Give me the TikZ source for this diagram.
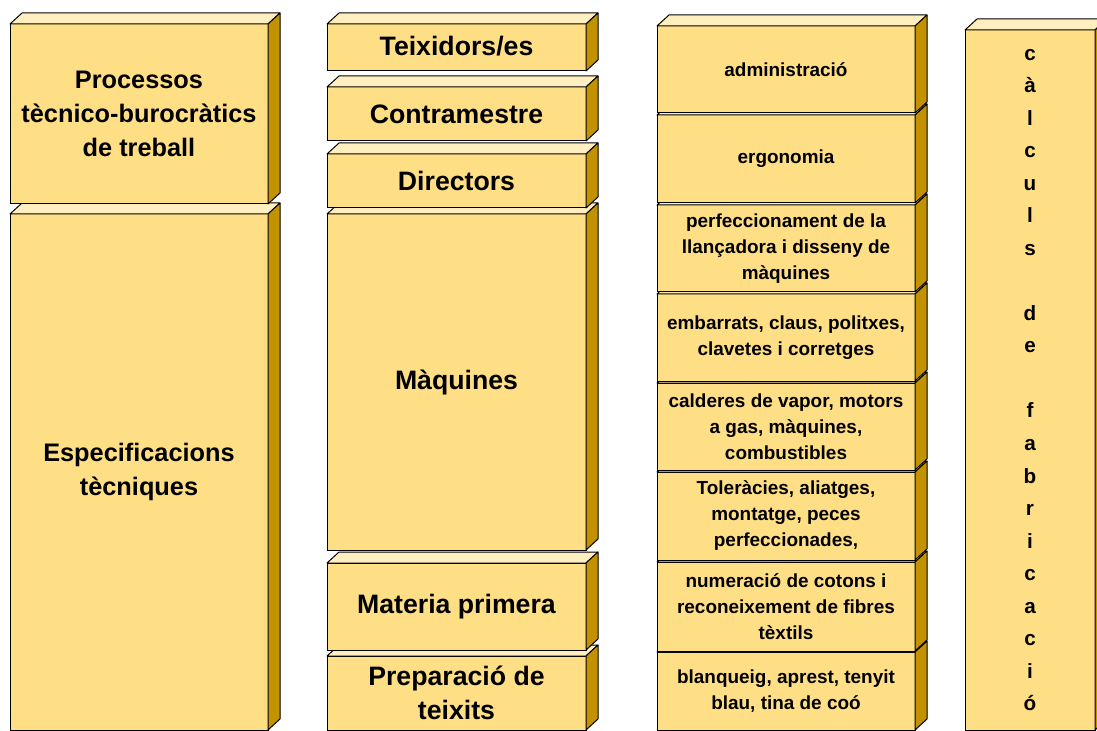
\documentclass[tikz,border=0pt]{standalone}
\usepackage{fontspec}
\setmainfont{Liberation Sans}
\usetikzlibrary{calc}
\definecolor{frontc}{HTML}{FFDF85}
\definecolor{topc}{HTML}{FFEFC0}
\definecolor{sidec}{HTML}{C29200}
\tikzset{
  face/.style={draw=black, line width=0.75pt, fill=frontc, inner sep=0pt, outer sep=0pt, align=center},
  big/.style={font=\fontsize{19}{25.5}\selectfont\bfseries},
  mid/.style={font=\fontsize{20}{25.5}\selectfont\bfseries},
  small/.style={font=\fontsize{14.2}{19.5}\selectfont\bfseries},
  vert/.style={font=\fontsize{15.5}{24.4}\selectfont\bfseries},
  topface/.style={draw=black, line width=0.75pt, fill=topc, line join=round},
  sideface/.style={draw=black, line width=0.75pt, fill=sidec, line join=round},
}
% name, style, x, y, w, h, text
\newcommand\cubebox[7]{%
  \node[face,#2,minimum width={#5*0.75pt},minimum height={#6*0.75pt}] (#1) at ({#3+#5/2},{#4+#6/2}) {#7};
  \draw[topface] (#1.north west) -- ++(12,-11) -- ($(#1.north east)+(12,-11)$) -- (#1.north east) -- cycle;
  \draw[sideface] (#1.north east) -- ++(12,-11) -- ($(#1.south east)+(12,-11)$) -- (#1.south east) -- cycle;
}
\begin{document}
\begin{tikzpicture}[x=0.75pt,y=-0.75pt]
\useasboundingbox (0,0) rectangle (1097,731);
\clip (0,0) rectangle (1097,731);
% column 1
\cubebox{esp}{big}{10}{214}{258}{516}{Especificacions\\tècniques}
\cubebox{proc}{big}{10}{24}{258}{180}{Processos\\tècnico-burocràtics\\de treball}
% column 2
\cubebox{prep}{mid}{327}{656}{259}{74}{Preparació de\\teixits}
\cubebox{mat}{mid}{327}{563}{259}{87}{Materia primera}
\cubebox{maq}{mid}{327}{214}{259}{336}{Màquines}
\cubebox{dir}{mid}{327}{154}{259}{54}{Directors}
\cubebox{contra}{mid}{327}{87}{259}{54}{Contramestre}
\cubebox{teix}{mid}{327}{24}{259}{47}{\raisebox{2pt}{Teixidors/es}}
% column 3
\cubebox{blanq}{small}{657}{652}{258}{78}{blanqueig, aprest, tenyit\\blau, tina de coó}
\cubebox{numer}{small}{657}{562}{258}{89}{numeració de cotons i\\reconeixement de fibres\\tèxtils}
\cubebox{toler}{small}{657}{472}{258}{88}{Toleràcies, aliatges,\\montatge, peces\\perfeccionades,}
\cubebox{cald}{small}{657}{383}{258}{87}{calderes de vapor, motors\\a gas, màquines,\\combustibles}
\cubebox{embar}{small}{657}{294}{258}{87}{embarrats, claus, politxes,\\clavetes i corretges}
\cubebox{perf}{small}{657}{205}{258}{87}{perfeccionament de la\\llançadora i disseny de\\màquines}
\cubebox{ergo}{small}{657}{115}{258}{88}{ergonomia}
\cubebox{admin}{small}{657}{26}{258}{87}{administració}
% column 4
\cubebox{calc}{vert}{965}{30}{130}{700}{c\\à\\l\\c\\u\\l\\s\\\mbox{}\\d\\e\\\mbox{}\\f\\a\\b\\r\\i\\c\\a\\c\\i\\ó}
\end{tikzpicture}
\end{document}
